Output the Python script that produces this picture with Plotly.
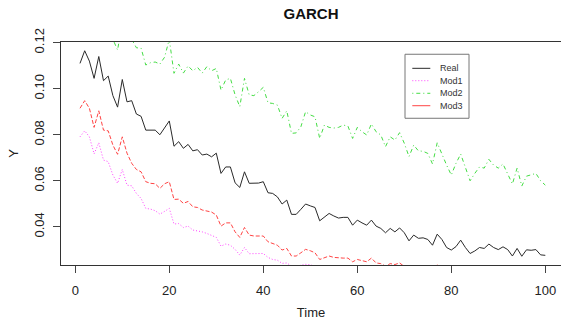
import plotly.graph_objects as go

time = list(range(1, 101))

real = [0.111, 0.1165, 0.112, 0.1045, 0.114, 0.1035, 0.1055, 0.097, 0.092, 0.104,
        0.0943, 0.0948, 0.089, 0.088, 0.082, 0.082, 0.082, 0.080, 0.0832, 0.086,
        0.075, 0.077, 0.0741, 0.0758, 0.073, 0.0735, 0.0712, 0.0716, 0.0704, 0.072,
        0.0632, 0.066, 0.066, 0.0591, 0.0571, 0.0639, 0.0589, 0.0588, 0.059, 0.0596,
        0.0548, 0.0545, 0.053, 0.0499, 0.0516, 0.0454, 0.0454, 0.0476, 0.0499, 0.0491,
        0.0484, 0.0426, 0.0443, 0.0458, 0.0447, 0.0438, 0.0441, 0.0441, 0.0407, 0.0429,
        0.0417, 0.0407, 0.0429, 0.0403, 0.0393, 0.0374, 0.0393, 0.0378, 0.0395, 0.0374,
        0.0339, 0.0364, 0.035, 0.0352, 0.0345, 0.032, 0.0368, 0.0345, 0.031, 0.0299,
        0.0314, 0.0342, 0.031, 0.0284, 0.0295, 0.031, 0.0306, 0.0325, 0.031, 0.0301,
        0.0313, 0.0301, 0.0273, 0.0306, 0.0272, 0.030, 0.0298, 0.0301, 0.0278, 0.0276]

mod1 = [0.0791, 0.0817, 0.0791, 0.0717, 0.0765, 0.069, 0.0683, 0.0625, 0.0589, 0.0649,
        0.0581, 0.0578, 0.0545, 0.0523, 0.048, 0.0477, 0.047, 0.0455, 0.0467, 0.048,
        0.0412, 0.0414, 0.0397, 0.0403, 0.0386, 0.0383, 0.0378, 0.0371, 0.0364, 0.0354,
        0.0316, 0.0325, 0.032, 0.0302, 0.0277, 0.031, 0.0283, 0.0283, 0.0283, 0.0284,
        0.0267, 0.0258, 0.0255, 0.0241, 0.0243, 0.0229, 0.0229, 0.0233, 0.0237, 0.0235,
        0.0228, 0.0205, 0.021, 0.0214, 0.021, 0.0207, 0.0207, 0.0207, 0.0195, 0.0202,
        0.0198, 0.0195, 0.0207, 0.019, 0.0188, 0.018, 0.0188, 0.0185, 0.019, 0.018,
        0.0166, 0.0177, 0.0171, 0.0172, 0.0168, 0.0157, 0.0180, 0.0168, 0.0152, 0.0147,
        0.0154, 0.0168, 0.0152, 0.014, 0.0145, 0.0152, 0.015, 0.0159, 0.0152, 0.0148,
        0.0154, 0.0148, 0.0134, 0.015, 0.0134, 0.0147, 0.0146, 0.0148, 0.0137, 0.0135]

mod2 = [0.141, 0.147, 0.142, 0.135, 0.144, 0.133, 0.136, 0.1215, 0.1168, 0.129,
        0.122, 0.1215, 0.1178, 0.1176, 0.1103, 0.1113, 0.1116, 0.1107, 0.1137, 0.1215,
        0.1067, 0.1107, 0.1068, 0.1099, 0.1078, 0.1093, 0.1068, 0.1096, 0.1078, 0.1088,
        0.0994, 0.1038, 0.1045, 0.0973, 0.0922, 0.1045, 0.0973, 0.097, 0.0987, 0.1006,
        0.0939, 0.0936, 0.0929, 0.0871, 0.0904, 0.0806, 0.0808, 0.0835, 0.090, 0.0886,
        0.0878, 0.0784, 0.0842, 0.0832, 0.0829, 0.0832, 0.0842, 0.0838, 0.0784, 0.0832,
        0.0813, 0.0799, 0.0847, 0.0813, 0.0799, 0.0748, 0.0791, 0.0777, 0.0809, 0.0763,
        0.0705, 0.0755, 0.073, 0.0728, 0.0719, 0.0673, 0.0765, 0.0712, 0.0668, 0.0625,
        0.0676, 0.0716, 0.0654, 0.060, 0.0632, 0.066, 0.0655, 0.0693, 0.0668, 0.0655,
        0.0673, 0.0632, 0.0586, 0.0655, 0.0577, 0.062, 0.0625, 0.0632, 0.060, 0.0581]

mod3 = [0.0915, 0.0948, 0.0915, 0.0832, 0.0904, 0.082, 0.0817, 0.0755, 0.0715, 0.0791,
        0.072, 0.0676, 0.0649, 0.0639, 0.0596, 0.0589, 0.0587, 0.0567, 0.0587, 0.0596,
        0.0519, 0.052, 0.0502, 0.051, 0.0487, 0.0484, 0.0473, 0.0468, 0.0464, 0.0451,
        0.0403, 0.0417, 0.0417, 0.0378, 0.0354, 0.0397, 0.0364, 0.036, 0.036, 0.036,
        0.0335, 0.0328, 0.032, 0.0299, 0.0306, 0.0273, 0.0273, 0.0287, 0.0302, 0.0296,
        0.0287, 0.0258, 0.0267, 0.0273, 0.0267, 0.0264, 0.0264, 0.0264, 0.0248, 0.0258,
        0.0252, 0.0248, 0.0264, 0.0243, 0.024, 0.0229, 0.024, 0.0236, 0.0243, 0.0229,
        0.0212, 0.0226, 0.0218, 0.0219, 0.0215, 0.0200, 0.0237, 0.0215, 0.0194, 0.0187,
        0.0196, 0.0214, 0.0194, 0.0178, 0.0184, 0.0194, 0.0191, 0.0203, 0.0194, 0.0188,
        0.0196, 0.0188, 0.0171, 0.0191, 0.0170, 0.0187, 0.0186, 0.0188, 0.0174, 0.0172]

x_ticks = [0, 20, 40, 60, 80, 100]
y_ticks = [0.04, 0.06, 0.08, 0.10, 0.12]
y_tick_labels = ["0.04", "0.06", "0.08", "0.10", "0.12"]

series_names = ["Real", "Mod1", "Mod2", "Mod3"]
series_colors = ["#2a2a2a", "#FF44FF", "#44DD44", "#FF4444"]
plot_dashes = ["solid", "1px,2px", "1px,3px,4px,3px", "4px,2px"]
legend_dashes = ["solid", "1px,2px", "1px,3px,4px,3px", "solid"]

FONT = "Liberation Sans, Arial, sans-serif"

fig = go.Figure()
for name, vals, col, dash in zip(series_names, [real, mod1, mod2, mod3], series_colors, plot_dashes):
    fig.add_trace(go.Scatter(x=time, y=vals, mode="lines", name=name,
                             line=dict(color=col, width=1, dash=dash),
                             showlegend=False))

# R-style legend box (top right)
lx0, lx1, ly0, ly1 = 0.688, 0.816, 0.658, 0.945
fig.add_shape(type="rect", xref="paper", yref="paper", x0=lx0, x1=lx1, y0=ly0, y1=ly1,
              line=dict(color="#777777", width=1), fillcolor="white", layer="above")
entry_y = [0.882, 0.8265, 0.770, 0.7143]
for name, col, dash, ey in zip(series_names, series_colors, legend_dashes, entry_y):
    fig.add_shape(type="line", xref="paper", yref="paper", x0=0.7026, x1=0.7386, y0=ey, y1=ey,
                  line=dict(color=col, width=1, dash=dash), layer="above")
    fig.add_annotation(xref="paper", yref="paper", x=0.7534, y=ey, text=name,
                       showarrow=False, xanchor="left", yanchor="middle",
                       font=dict(family=FONT, size=9, color="#333333"))

fig.update_layout(
    width=561, height=320,
    margin=dict(l=61, r=0, t=42, b=55),
    paper_bgcolor="white", plot_bgcolor="white",
    font=dict(family=FONT, size=13, color="#222222"),
    title=dict(text="<b>GARCH</b>", x=0.5, xref="paper", xanchor="center",
               y=1 - 14 / 320, yref="container", yanchor="middle",
               font=dict(family=FONT, size=15, color="#111111")),
    showlegend=False,
)
fig.update_xaxes(
    range=[-3.04, 103.34], tickvals=x_ticks, ticks="outside", ticklen=7,
    tickcolor="#444444", showline=True, linecolor="#333333", linewidth=1, mirror=True,
    showgrid=False, zeroline=False, ticklabelstandoff=6,
    title=dict(text="Time", standoff=14, font=dict(size=13)),
)
fig.update_yaxes(
    range=[0.0234, 0.1203], tickvals=y_ticks, ticktext=y_tick_labels, tickangle=-90,
    ticks="outside", ticklen=7, tickcolor="#444444", showline=True, linecolor="#333333",
    linewidth=1, mirror=False, showgrid=False, zeroline=False, ticklabelstandoff=4,
    title=dict(text="Y", standoff=10, font=dict(size=13)),
)

fig.write_html("out.html")
